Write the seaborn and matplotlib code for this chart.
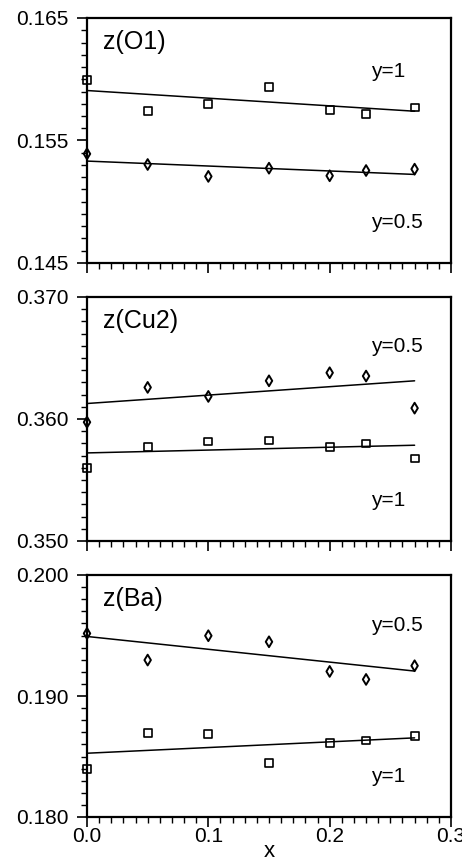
import matplotlib
matplotlib.use("Agg")
import matplotlib.pyplot as plt
from matplotlib.ticker import MultipleLocator, FormatStrFormatter
import numpy as np
import pandas as pd
import seaborn as sns

# ---- data ----
x_vals = [0.0, 0.05, 0.10, 0.15, 0.20, 0.23, 0.27]
fit_x = [0.0, 0.27]

o1_y1 = [0.15995, 0.15742, 0.15799, 0.15935, 0.15747, 0.15717, 0.15769]
o1_y05 = [0.15391, 0.15304, 0.15207, 0.15274, 0.15212, 0.15255, 0.15266]
o1_fit_y1 = [0.15908, 0.15739]
o1_fit_y05 = [0.15332, 0.15223]

cu2_y05 = [0.35974, 0.36259, 0.36185, 0.36313, 0.36379, 0.36352, 0.36089]
cu2_y1 = [0.35596, 0.35772, 0.35815, 0.35824, 0.35767, 0.35799, 0.35676]
cu2_fit_y05 = [0.36127, 0.36313]
cu2_fit_y1 = [0.35722, 0.35785]

ba_y05 = [0.19517, 0.19297, 0.19498, 0.19448, 0.19203, 0.19137, 0.19250]
ba_y1 = [0.18397, 0.18695, 0.18687, 0.18447, 0.18612, 0.18632, 0.18670]
ba_fit_y05 = [0.19492, 0.19206]
ba_fit_y1 = [0.18527, 0.18654]

panel_titles = ["z(O1)", "z(Cu2)", "z(Ba)"]
y_limits = [(0.145, 0.165), (0.350, 0.370), (0.180, 0.200)]
y_major = [[0.145, 0.155, 0.165], [0.350, 0.360, 0.370], [0.180, 0.190, 0.200]]
x_ticks = [0.0, 0.1, 0.2, 0.3]
x_ticklabels = ["0.0", "0.1", "0.2", "0.3"]

panels = [
    dict(sq=o1_y1, di=o1_y05, fsq=o1_fit_y1, fdi=o1_fit_y05,
         upper="y=1", lower="y=0.5", up_y=0.78, lo_y=0.167),
    dict(sq=cu2_y1, di=cu2_y05, fsq=cu2_fit_y1, fdi=cu2_fit_y05,
         upper="y=0.5", lower="y=1", up_y=0.797, lo_y=0.168),
    dict(sq=ba_y1, di=ba_y05, fsq=ba_fit_y1, fdi=ba_fit_y05,
         upper="y=0.5", lower="y=1", up_y=0.793, lo_y=0.166),
]

sns.set_style("ticks")
plt.rcParams['font.family'] = ['Liberation Sans', 'DejaVu Sans']
plt.rcParams['text.color'] = 'black'
plt.rcParams['axes.labelcolor'] = 'black'
plt.rcParams['xtick.color'] = 'black'
plt.rcParams['ytick.color'] = 'black'

fig = plt.figure(figsize=(4.62, 8.61), dpi=100)
W, H = 462.0, 861.0
left_px, right_px = 87, 451
boxes = [(18, 263), (297, 541), (575, 817)]

for i, (p, (tp, bp)) in enumerate(zip(panels, boxes)):
    ax = fig.add_axes([left_px / W, 1 - bp / H, (right_px - left_px) / W, (bp - tp) / H])
    df_sq = pd.DataFrame({"x": x_vals, "z": p["sq"]})
    df_di = pd.DataFrame({"x": x_vals, "z": p["di"]})
    df_fsq = pd.DataFrame({"x": fit_x, "z": p["fsq"]})
    df_fdi = pd.DataFrame({"x": fit_x, "z": p["fdi"]})

    sns.lineplot(data=df_fsq, x="x", y="z", ax=ax, color="black", lw=1.1)
    sns.lineplot(data=df_fdi, x="x", y="z", ax=ax, color="black", lw=1.1)
    sns.scatterplot(data=df_sq, x="x", y="z", ax=ax, marker="s", s=32,
                    facecolor="none", edgecolor="black", linewidth=1.2,
                    zorder=3, clip_on=False)
    sns.scatterplot(data=df_di, x="x", y="z", ax=ax, marker="d", s=30,
                    facecolor="none", edgecolor="black", linewidth=1.4,
                    zorder=3, clip_on=False)

    ax.set_xlim(0.0, 0.3)
    ax.set_ylim(*y_limits[i])
    ax.set_yticks(y_major[i])
    ax.yaxis.set_major_formatter(FormatStrFormatter("%.3f"))
    ax.yaxis.set_minor_locator(MultipleLocator(0.001))
    ax.xaxis.set_minor_locator(MultipleLocator(0.01))
    ax.set_xticks(x_ticks)
    ax.set_ylabel("")
    ax.tick_params(axis="both", which="major", direction="out", length=7,
                   width=1.2, labelsize=15, colors="black")
    ax.tick_params(axis="y", which="major", pad=6)
    ax.tick_params(axis="x", which="major", pad=0)
    ax.tick_params(axis="both", which="minor", direction="out", length=4,
                   width=1.0, colors="black")
    if i == 2:
        ax.set_xticklabels(x_ticklabels)
        ax.set_xlabel("x", fontsize=16, color="black")
        ax.xaxis.set_label_coords(0.5, -0.10)
    else:
        ax.set_xticklabels([])
        ax.set_xlabel("")
    for sp in ax.spines.values():
        sp.set_visible(True)
        sp.set_linewidth(1.6)
        sp.set_color("black")

    ax.text(0.044, 0.95, panel_titles[i], transform=ax.transAxes,
            fontsize=18, ha="left", va="top", color="black")
    ax.text(0.78, p["up_y"], p["upper"], transform=ax.transAxes,
            fontsize=15, ha="left", va="center", color="black")
    ax.text(0.78, p["lo_y"], p["lower"], transform=ax.transAxes,
            fontsize=15, ha="left", va="center", color="black")

fig.savefig("out.png", dpi=100)
